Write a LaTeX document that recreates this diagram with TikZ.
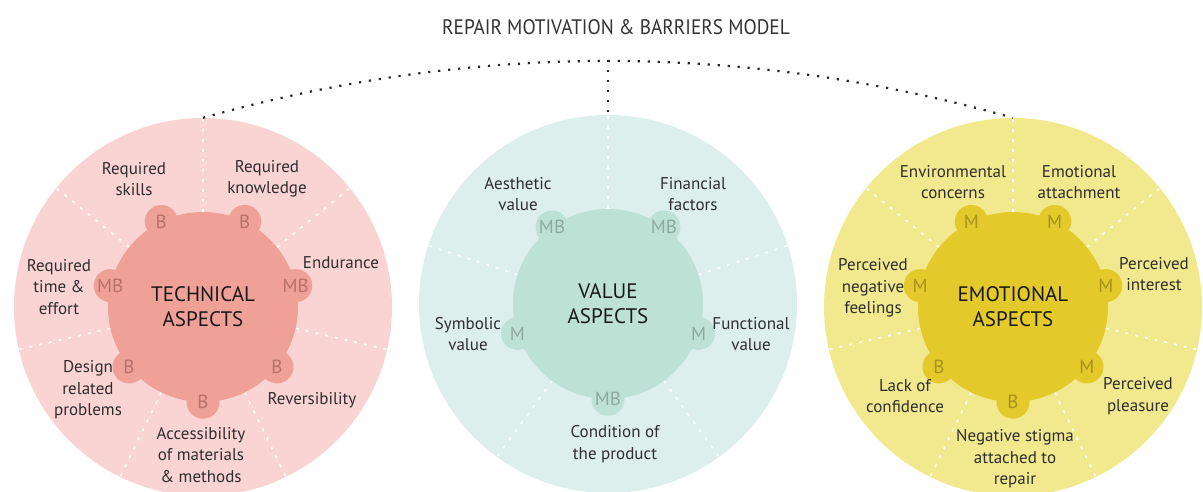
\documentclass[tikz,border=0pt]{standalone}
\usepackage{fontspec}
\setmainfont{PT Sans}
\newfontfamily\titlefont[FakeStretch=0.92]{PT Sans}
\usetikzlibrary{positioning}
\pgfdeclarelayer{background}
\pgfdeclarelayer{foreground}
\pgfsetlayers{background,main,foreground}
\definecolor{techout}{HTML}{F9D4D3}
\definecolor{techin}{HTML}{F0A197}
\definecolor{techtxt}{HTML}{B5716A}
\definecolor{valout}{HTML}{DDEFEC}
\definecolor{valin}{HTML}{BEE1D6}
\definecolor{valtxt}{HTML}{8FA9A1}
\definecolor{emoout}{HTML}{F2E98F}
\definecolor{emoin}{HTML}{E4C92B}
\definecolor{emotxt}{HTML}{A6921F}
\definecolor{labeltxt}{HTML}{2E2E2E}

\begin{document}
\begin{tikzpicture}[x=1pt, y=1pt,
						outernode/.style={circle, minimum size=378pt, inner sep=0pt},
						innernode/.style={circle, minimum size=190pt, inner sep=0pt, align=center, text=black!90, font=\fontsize{21}{25}\selectfont},
						bumpnode/.style={circle, minimum size=33pt, inner sep=0pt, font=\fontsize{19}{19}\selectfont},
						labelnode/.style={align=center, text=labeltxt, font=\fontsize{17}{21.5}\selectfont},
						titlenode/.style={text=black!80, font=\titlefont\fontsize{21}{22}\selectfont},
						spoke/.style={white, line width=1.6pt, dash pattern=on 3pt off 7pt},
						dots/.style={black!85, line width=2.2pt, dash pattern=on 2.2pt off 7.8pt},
						]
						\useasboundingbox (0,0) rectangle (1203,491);
						%Title
						\node[titlenode]      (title)   at (616,464)    {REPAIR MOTIVATION \& BARRIERS MODEL};
						
						\begin{pgfonlayer}{background}
						%Outer circles
						\node[outernode, fill=techout] (techbg) at (203,184) {};
						\node[outernode, fill=valout]  (valbg)  at (608,187) {};
						\node[outernode, fill=emoout]  (emobg)  at (1013,184) {};
						\end{pgfonlayer}
						
						%Inner circles
						\node[innernode, fill=techin] (tech) at (203,184) {TECHNICAL\\ASPECTS};
						\node[innernode, fill=valin]  (val)  at (608,187) {VALUE\\ASPECTS};
						\node[innernode, fill=emoin]  (emo)  at (1013,184) {EMOTIONAL\\ASPECTS};
						
						\begin{pgfonlayer}{background}
						%Spokes
						\foreach \k in {0,...,6}{
							\pgfmathtruncatemacro\a{mod(round(270+(\k+0.5)*360/7),360)}
							\draw[spoke] (tech.\a) -- (techbg.\a);
							\draw[spoke] (emo.\a) -- (emobg.\a);
						}
						\foreach \k in {0,...,4}{
							\pgfmathtruncatemacro\a{mod(round(306+\k*72),360)}
							\draw[spoke] (val.\a) -- (valbg.\a);
						}
						\end{pgfonlayer}
						
						%Bumps
						\foreach \lbl [count=\k from 0] in {B,B,MB,B,B,MB,B}{
							\pgfmathtruncatemacro\a{mod(round(270+\k*360/7),360)}
							\node[bumpnode, fill=techin, text=techtxt] (tb\k) at (tech.\a) {\lbl};
						}
						\foreach \lbl [count=\k from 0] in {MB,M,MB,MB,M}{
							\pgfmathtruncatemacro\a{mod(round(270+\k*72),360)}
							\node[bumpnode, fill=valin, text=valtxt] (vb\k) at (val.\a) {\lbl};
						}
						\foreach \lbl [count=\k from 0] in {B,M,M,M,M,M,B}{
							\pgfmathtruncatemacro\a{mod(round(270+\k*360/7),360)}
							\node[bumpnode, fill=emoin, text=emotxt] (eb\k) at (emo.\a) {\lbl};
						}
						
						%Labels
						\node[labelnode] (skills)     at (134,312) {Required\\skills};
						\node[labelnode] (knowledge)  at (267,312) {Required\\knowledge};
						\node[labelnode] (endurance)  at (341,228) {Endurance};
						\node[labelnode] (time)       at (59,204)  {Required\\time \&\\effort};
						\node[labelnode] (design)     at (88,101)  {Design\\related\\problems};
						\node[labelnode] (revers)     at (312,91)  {Reversibility};
						\node[labelnode] (access)     at (201,36)  {Accessibility\\of materials\\\& methods};
						
						\node[labelnode] (aesthetic)  at (518,297) {Aesthetic\\value};
						\node[labelnode] (financial)  at (693,297) {Financial\\factors};
						\node[labelnode] (symbolic)   at (468,157) {Symbolic\\value};
						\node[labelnode] (functional) at (751,157) {Functional\\value};
						\node[labelnode] (condition)  at (615,47)  {Condition of\\the product};
						
						\node[labelnode] (environ)    at (953,309)  {Environmental\\concerns};
						\node[labelnode] (attach)     at (1079,309) {Emotional\\attachment};
						\node[labelnode] (interest)   at (1154,217) {Perceived\\interest};
						\node[labelnode] (negative)   at (873,203)  {Perceived\\negative\\feelings};
						\node[labelnode] (confidence) at (905,95)   {Lack of\\confidence};
						\node[labelnode] (pleasure)   at (1138,95)  {Perceived\\pleasure};
						\node[labelnode] (stigma)     at (1015,32)  {Negative stigma\\attached to\\repair};
						
						%Dotted arc
						\coordinate (arctop) at (608,431);
						\draw[dots] (techbg.north) .. controls (473,449) and (743,449) .. (emobg.north);
						\draw[dots] (arctop) -- (valbg.north);
					\end{tikzpicture}
\end{document}
